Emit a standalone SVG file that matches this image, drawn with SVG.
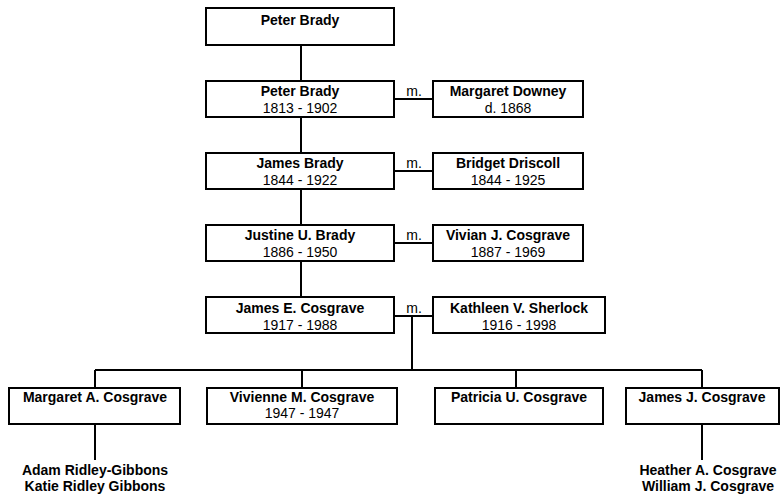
<svg xmlns="http://www.w3.org/2000/svg" width="780" height="498" viewBox="0 0 780 498">
<style>
.box{fill:#fff;stroke:#000;stroke-width:2}
.ln{stroke:#000;stroke-width:2;fill:none}
text{font-family:"Liberation Sans",Arial,sans-serif;font-size:14px;text-anchor:middle;fill:#000}
.b{font-weight:bold}
</style>
<rect width="780" height="498" fill="#fff"/>
<g id="connectors">
<path class="ln" d="M301 45V81M301 117V153M301 189V225M301 261V297"/>
<path class="ln" d="M394 99H433M394 171H433M394 243H433M394 316H433"/>
<path class="ln" d="M412 316V370M95 370H702M95 370V388M302 370V388M516 370V388M702 370V388"/>
<path class="ln" d="M95 424V460M702 424V460"/>
</g>
<text x="414" y="96">m.</text>
<text x="414" y="168">m.</text>
<text x="414" y="240">m.</text>
<text x="414" y="313">m.</text>
<g id="n1"><rect class="box" x="206" y="8" width="188" height="37"/><text class="b" x="300" y="25">Peter Brady</text></g>
<g id="n2"><rect class="box" x="206" y="81" width="188" height="36"/><text class="b" x="300" y="96">Peter Brady</text><text x="300" y="113">1813 - 1902</text></g>
<g id="n3"><rect class="box" x="433" y="81" width="150" height="36"/><text class="b" x="508" y="96">Margaret Downey</text><text x="508" y="113">d. 1868</text></g>
<g id="n4"><rect class="box" x="206" y="153" width="188" height="36"/><text class="b" x="300" y="168">James Brady</text><text x="300" y="185">1844 - 1922</text></g>
<g id="n5"><rect class="box" x="433" y="153" width="150" height="36"/><text class="b" x="508" y="168">Bridget Driscoll</text><text x="508" y="185">1844 - 1925</text></g>
<g id="n6"><rect class="box" x="206" y="225" width="188" height="36"/><text class="b" x="300" y="240">Justine U. Brady</text><text x="300" y="257">1886 - 1950</text></g>
<g id="n7"><rect class="box" x="433" y="225" width="150" height="36"/><text class="b" x="508" y="240">Vivian J. Cosgrave</text><text x="508" y="257">1887 - 1969</text></g>
<g id="n8"><rect class="box" x="206" y="297" width="188" height="36"/><text class="b" x="300" y="313">James E. Cosgrave</text><text x="300" y="330">1917 - 1988</text></g>
<g id="n9"><rect class="box" x="433" y="297" width="172" height="36"/><text class="b" x="519" y="313">Kathleen V. Sherlock</text><text x="519" y="330">1916 - 1998</text></g>
<g id="n10"><rect class="box" x="9" y="388" width="171" height="36"/><text class="b" x="95" y="402">Margaret A. Cosgrave</text></g>
<g id="n11"><rect class="box" x="207" y="388" width="190" height="36"/><text class="b" x="302" y="402">Vivienne M. Cosgrave</text><text x="302" y="418">1947 - 1947</text></g>
<g id="n12"><rect class="box" x="435" y="388" width="168" height="36"/><text class="b" x="519" y="402">Patricia U. Cosgrave</text></g>
<g id="n13"><rect class="box" x="626" y="388" width="153" height="36"/><text class="b" x="702" y="402">James J. Cosgrave</text></g>
<g id="n14"><text class="b" x="95" y="475">Adam Ridley-Gibbons</text><text class="b" x="95" y="491">Katie Ridley Gibbons</text></g>
<g id="n15"><text class="b" x="708" y="475">Heather A. Cosgrave</text><text class="b" x="708" y="491">William J. Cosgrave</text></g>
</svg>
